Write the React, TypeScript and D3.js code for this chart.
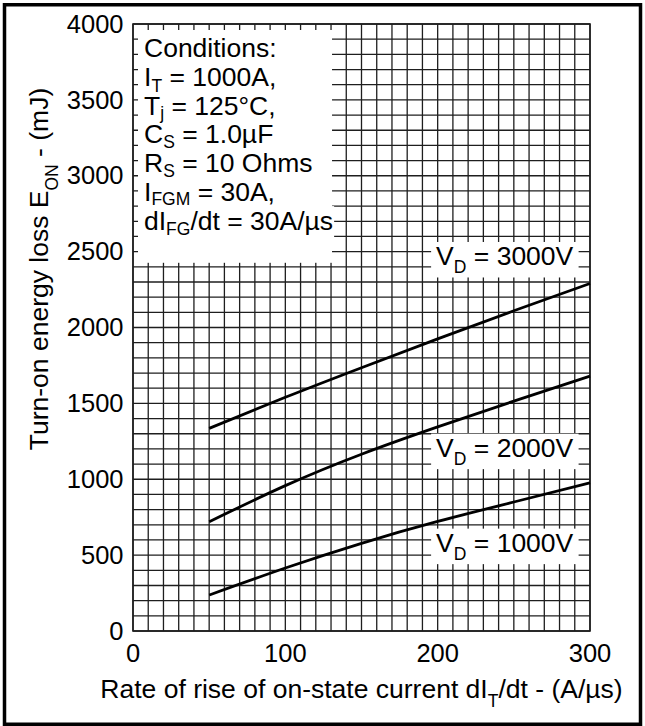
import React, { useEffect, useRef } from "react";
import * as d3 from "d3";

const W = 645;
const H = 726;

// dIT/dt (A/µs) sample points along each curve
const didt = [50, 100, 150, 200, 250, 300];
// Turn-on energy loss (mJ) for each off-state voltage
const eon3000 = [1335, 1540, 1735, 1925, 2110, 2290];
const eon2000 = [720, 958, 1165, 1345, 1515, 1680];
const eon1000 = [237, 415, 578, 722, 850, 977];
const seriesNames = ["3000V", "2000V", "1000V"];

const xTicks = [0, 100, 200, 300];
const yTicks = [0, 500, 1000, 1500, 2000, 2500, 3000, 3500, 4000];

type Part = { t: string; sub?: number };

const conditionLines: Part[][] = [
  [{ t: "Conditions:" }],
  [{ t: "I" }, { t: "T", sub: 6 }, { t: " = 1000A," }],
  [{ t: "T" }, { t: "j", sub: 4 }, { t: " = 125°C," }],
  [{ t: "C" }, { t: "S", sub: 5 }, { t: " = 1.0µF" }],
  [{ t: "R" }, { t: "S", sub: 5 }, { t: " = 10 Ohms" }],
  [{ t: "I" }, { t: "FGM", sub: 4 }, { t: " = 30A," }],
  [{ t: "dI" }, { t: "FG", sub: 5 }, { t: "/dt = 30A/µs" }],
];

const FONT = "'Liberation Sans', Arial, Helvetica, sans-serif";
const FS = 26.5;
const TICK_FS = 25.5;
const SUB_FS = 17.5;

export default function App() {
  const ref = useRef<SVGSVGElement>(null);

  useEffect(() => {
    const svg = d3.select(ref.current!);
    svg.selectAll("*").remove();

    const plot = { left: 133, right: 590, top: 24, bottom: 631 };
    const x = d3.scaleLinear().domain([0, 300]).range([plot.left, plot.right]);
    const y = d3.scaleLinear().domain([0, 4000]).range([plot.bottom, plot.top]);

    const addText = (
      g: d3.Selection<SVGGElement, unknown, null, undefined>,
      parts: Part[],
      px: number,
      py: number,
      anchor: string
    ) => {
      const text = g
        .append("text")
        .attr("x", px)
        .attr("y", py)
        .attr("text-anchor", anchor)
        .attr("font-family", FONT)
        .attr("font-size", FS)
        .attr("fill", "#000");
      let cur = 0;
      parts.forEach((p) => {
        const off = p.sub ?? 0;
        text
          .append("tspan")
          .attr("dy", off - cur)
          .attr("font-size", p.sub !== undefined ? SUB_FS : FS)
          .text(p.t);
        cur = off;
      });
      return text;
    };

    // outer frame
    svg
      .append("rect")
      .attr("x", 4.5)
      .attr("y", 4.75)
      .attr("width", 636)
      .attr("height", 719.5)
      .attr("fill", "none")
      .attr("stroke", "#000")
      .attr("stroke-width", 3.5);

    // grid
    const grid = svg.append("g").attr("stroke", "#1e1e1e").attr("stroke-width", 1.3);
    d3.range(0, 301, 10).forEach((v) => {
      grid
        .append("line")
        .attr("x1", x(v))
        .attr("x2", x(v))
        .attr("y1", plot.top)
        .attr("y2", plot.bottom);
    });
    d3.range(0, 4001, 100).forEach((v) => {
      grid
        .append("line")
        .attr("x1", plot.left)
        .attr("x2", plot.right)
        .attr("y1", y(v))
        .attr("y2", y(v));
    });
    svg
      .append("rect")
      .attr("x", plot.left)
      .attr("y", plot.top)
      .attr("width", plot.right - plot.left)
      .attr("height", plot.bottom - plot.top)
      .attr("fill", "none")
      .attr("stroke", "#1e1e1e")
      .attr("stroke-width", 1.6);

    // curves
    const line = d3
      .line<[number, number]>()
      .x((d) => x(d[0]))
      .y((d) => y(d[1]))
      .curve(d3.curveNatural);
    [eon3000, eon2000, eon1000].forEach((vals) => {
      svg
        .append("path")
        .attr("d", line(didt.map((d, i) => [d, vals[i]] as [number, number])))
        .attr("fill", "none")
        .attr("stroke", "#000")
        .attr("stroke-width", 2.8);
    });

    // conditions box
    const cond = svg.append("g");
    cond
      .append("rect")
      .attr("x", plot.left + 5)
      .attr("y", plot.top + 6)
      .attr("width", x(130) + 1 - (plot.left + 5))
      .attr("height", y(2400) - 4 - (plot.top + 6))
      .attr("fill", "#fff");
    const bgLayer = cond.append("g");
    conditionLines.forEach((parts, i) => {
      const t = addText(cond, parts, 144, 56.7 + i * 28.9, "start");
      const bb = (t.node() as SVGTextElement).getBBox();
      bgLayer
        .append("rect")
        .attr("x", bb.x - 1)
        .attr("y", bb.y)
        .attr("width", bb.width + 2)
        .attr("height", bb.height)
        .attr("fill", "#fff");
    });

    // voltage labels
    const labelX = 244;
    const labelE = [2412, 1149, 523];
    seriesNames.forEach((name, i) => {
      const g = svg.append("g");
      const bg = g.append("rect").attr("fill", "#fff");
      const base = y(labelE[i]);
      const t = addText(g, [{ t: "V" }, { t: "D", sub: 8 }, { t: ` = ${name}` }], x(labelX), base, "middle");
      const bb = (t.node() as SVGTextElement).getBBox();
      bg.attr("x", bb.x - 5)
        .attr("y", base - 23)
        .attr("width", bb.width + 10)
        .attr("height", 35.5);
    });

    // tick labels
    yTicks.forEach((v) => {
      svg
        .append("text")
        .attr("x", 123.5)
        .attr("y", y(v))
        .attr("dy", "0.34em")
        .attr("text-anchor", "end")
        .attr("font-family", FONT)
        .attr("font-size", TICK_FS)
        .text(String(v));
    });
    xTicks.forEach((v) => {
      svg
        .append("text")
        .attr("x", x(v))
        .attr("y", 662)
        .attr("text-anchor", "middle")
        .attr("font-family", FONT)
        .attr("font-size", TICK_FS)
        .text(String(v));
    });

    // axis titles
    const ax = svg.append("g");
    addText(
      ax,
      [{ t: "Rate of rise of on-state current dI" }, { t: "T", sub: 9 }, { t: "/dt - (A/µs)" }],
      (plot.left + plot.right) / 2,
      697.7,
      "middle"
    );
    const yt = svg.append("g").attr("transform", "translate(48.3,269) rotate(-90)");
    addText(yt, [{ t: "Turn-on energy loss E" }, { t: "ON", sub: 10 }, { t: " - (mJ)" }], 0, 0, "middle");
  }, []);

  return (
    <svg
      ref={ref}
      width={W}
      height={H}
      style={{ position: "absolute", left: 0, top: 0, background: "#fff" }}
    />
  );
}
